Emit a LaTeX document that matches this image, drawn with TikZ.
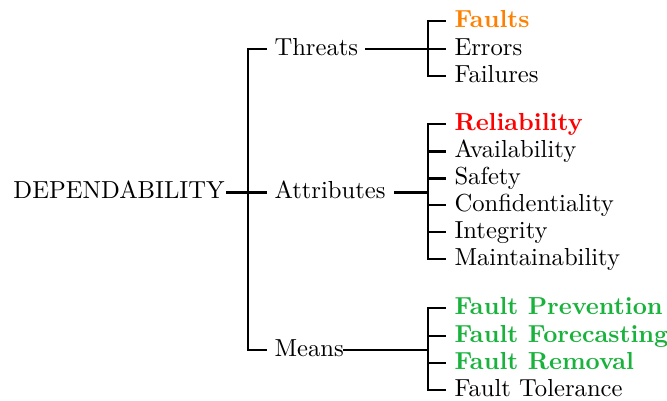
\documentclass[tikz,border=0pt]{standalone}
\usepackage{xcolor}
\definecolor{faultorange}{RGB}{255,128,0}
\definecolor{attrred}{RGB}{255,0,0}
\definecolor{meansgreen}{RGB}{25,178,60}
\newcommand\pxunit{0.406pt}
\begin{document}
\begin{tikzpicture}[x=\pxunit,y=-\pxunit,
  lbl/.style={inner sep=0pt,anchor=base west,font=\normalsize},
  branch/.style={line width=0.85pt,line cap=rect},
  hot/.style={lbl,font=\bfseries}]
\useasboundingbox (0,0) rectangle (667,400);

% root
\node[lbl] (dep) at (13,198) {DEPENDABILITY};

% first level
\node[lbl] (thr) at (274,55) {Threats};
\node[lbl] (att) at (274,198.5) {Attributes};
\node[lbl] (mea) at (274,356) {Means};

% second level: threats
\node[hot,text=faultorange] (t1) at (454,27) {Faults};
\node[lbl] (t2) at (454,55) {Errors};
\node[lbl] (t3) at (454,82) {Failures};

% second level: attributes
\node[hot,text=attrred] (a1) at (454,130) {Reliability};
\node[lbl] (a2) at (454,157.5) {Availability};
\node[lbl] (a3) at (454,184.5) {Safety};
\node[lbl] (a4) at (454,211) {Confidentiality};
\node[lbl] (a5) at (454,238) {Integrity};
\node[lbl] (a6) at (454,265) {Maintainability};

% second level: means
\node[hot,text=meansgreen] (m1) at (454,314) {Fault Prevention};
\node[hot,text=meansgreen] (m2) at (454,342) {Fault Forecasting};
\node[hot,text=meansgreen] (m3) at (454,369) {Fault Removal};
\node[lbl] (m4) at (454,396) {Fault Tolerance};

% junction and tick coordinates
\coordinate (r0) at (227,192.5);
\coordinate (rj) at (248,192.5);
\coordinate (tick1) at (266,0);
\coordinate (tick2) at (445,0);
\coordinate (tout) at (366,49);
\coordinate (aout) at (395,192.5);
\coordinate (mout) at (344,350);
\coordinate (tj) at (428,49);
\coordinate (aj) at (428,192.5);
\coordinate (mj) at (428,350);

% root to first level
\draw[branch] (r0) -- (rj);
\draw[branch] ([yshift=6*\pxunit]tick1 |- thr.base) -| (rj) |- ([yshift=6*\pxunit]tick1 |- mea.base);
\draw[branch] (rj) -- (rj -| tick1);

% threats
\draw[branch] (tout) -- (tj);
\draw[branch] ([yshift=6*\pxunit]tick2 |- t1.base) -| (tj) |- ([yshift=6*\pxunit]tick2 |- t3.base);
\draw[branch] (tj) -- (tj -| tick2);

% attributes
\draw[branch] (aout) -- (aj);
\draw[branch] ([yshift=6*\pxunit]tick2 |- a1.base) -| (aj) |- ([yshift=6*\pxunit]tick2 |- a6.base);
\foreach \n in {a2,a3,a4,a5}
  \draw[branch] ([yshift=6*\pxunit]tick2 |- \n.base) -- ([yshift=6*\pxunit]aj |- \n.base);

% means
\draw[branch] (mout) -- (mj);
\draw[branch] ([yshift=6*\pxunit]tick2 |- m1.base) -| (mj) |- ([yshift=6*\pxunit]tick2 |- m4.base);
\foreach \n in {m2,m3}
  \draw[branch] ([yshift=6*\pxunit]tick2 |- \n.base) -- ([yshift=6*\pxunit]mj |- \n.base);
\end{tikzpicture}
\end{document}
